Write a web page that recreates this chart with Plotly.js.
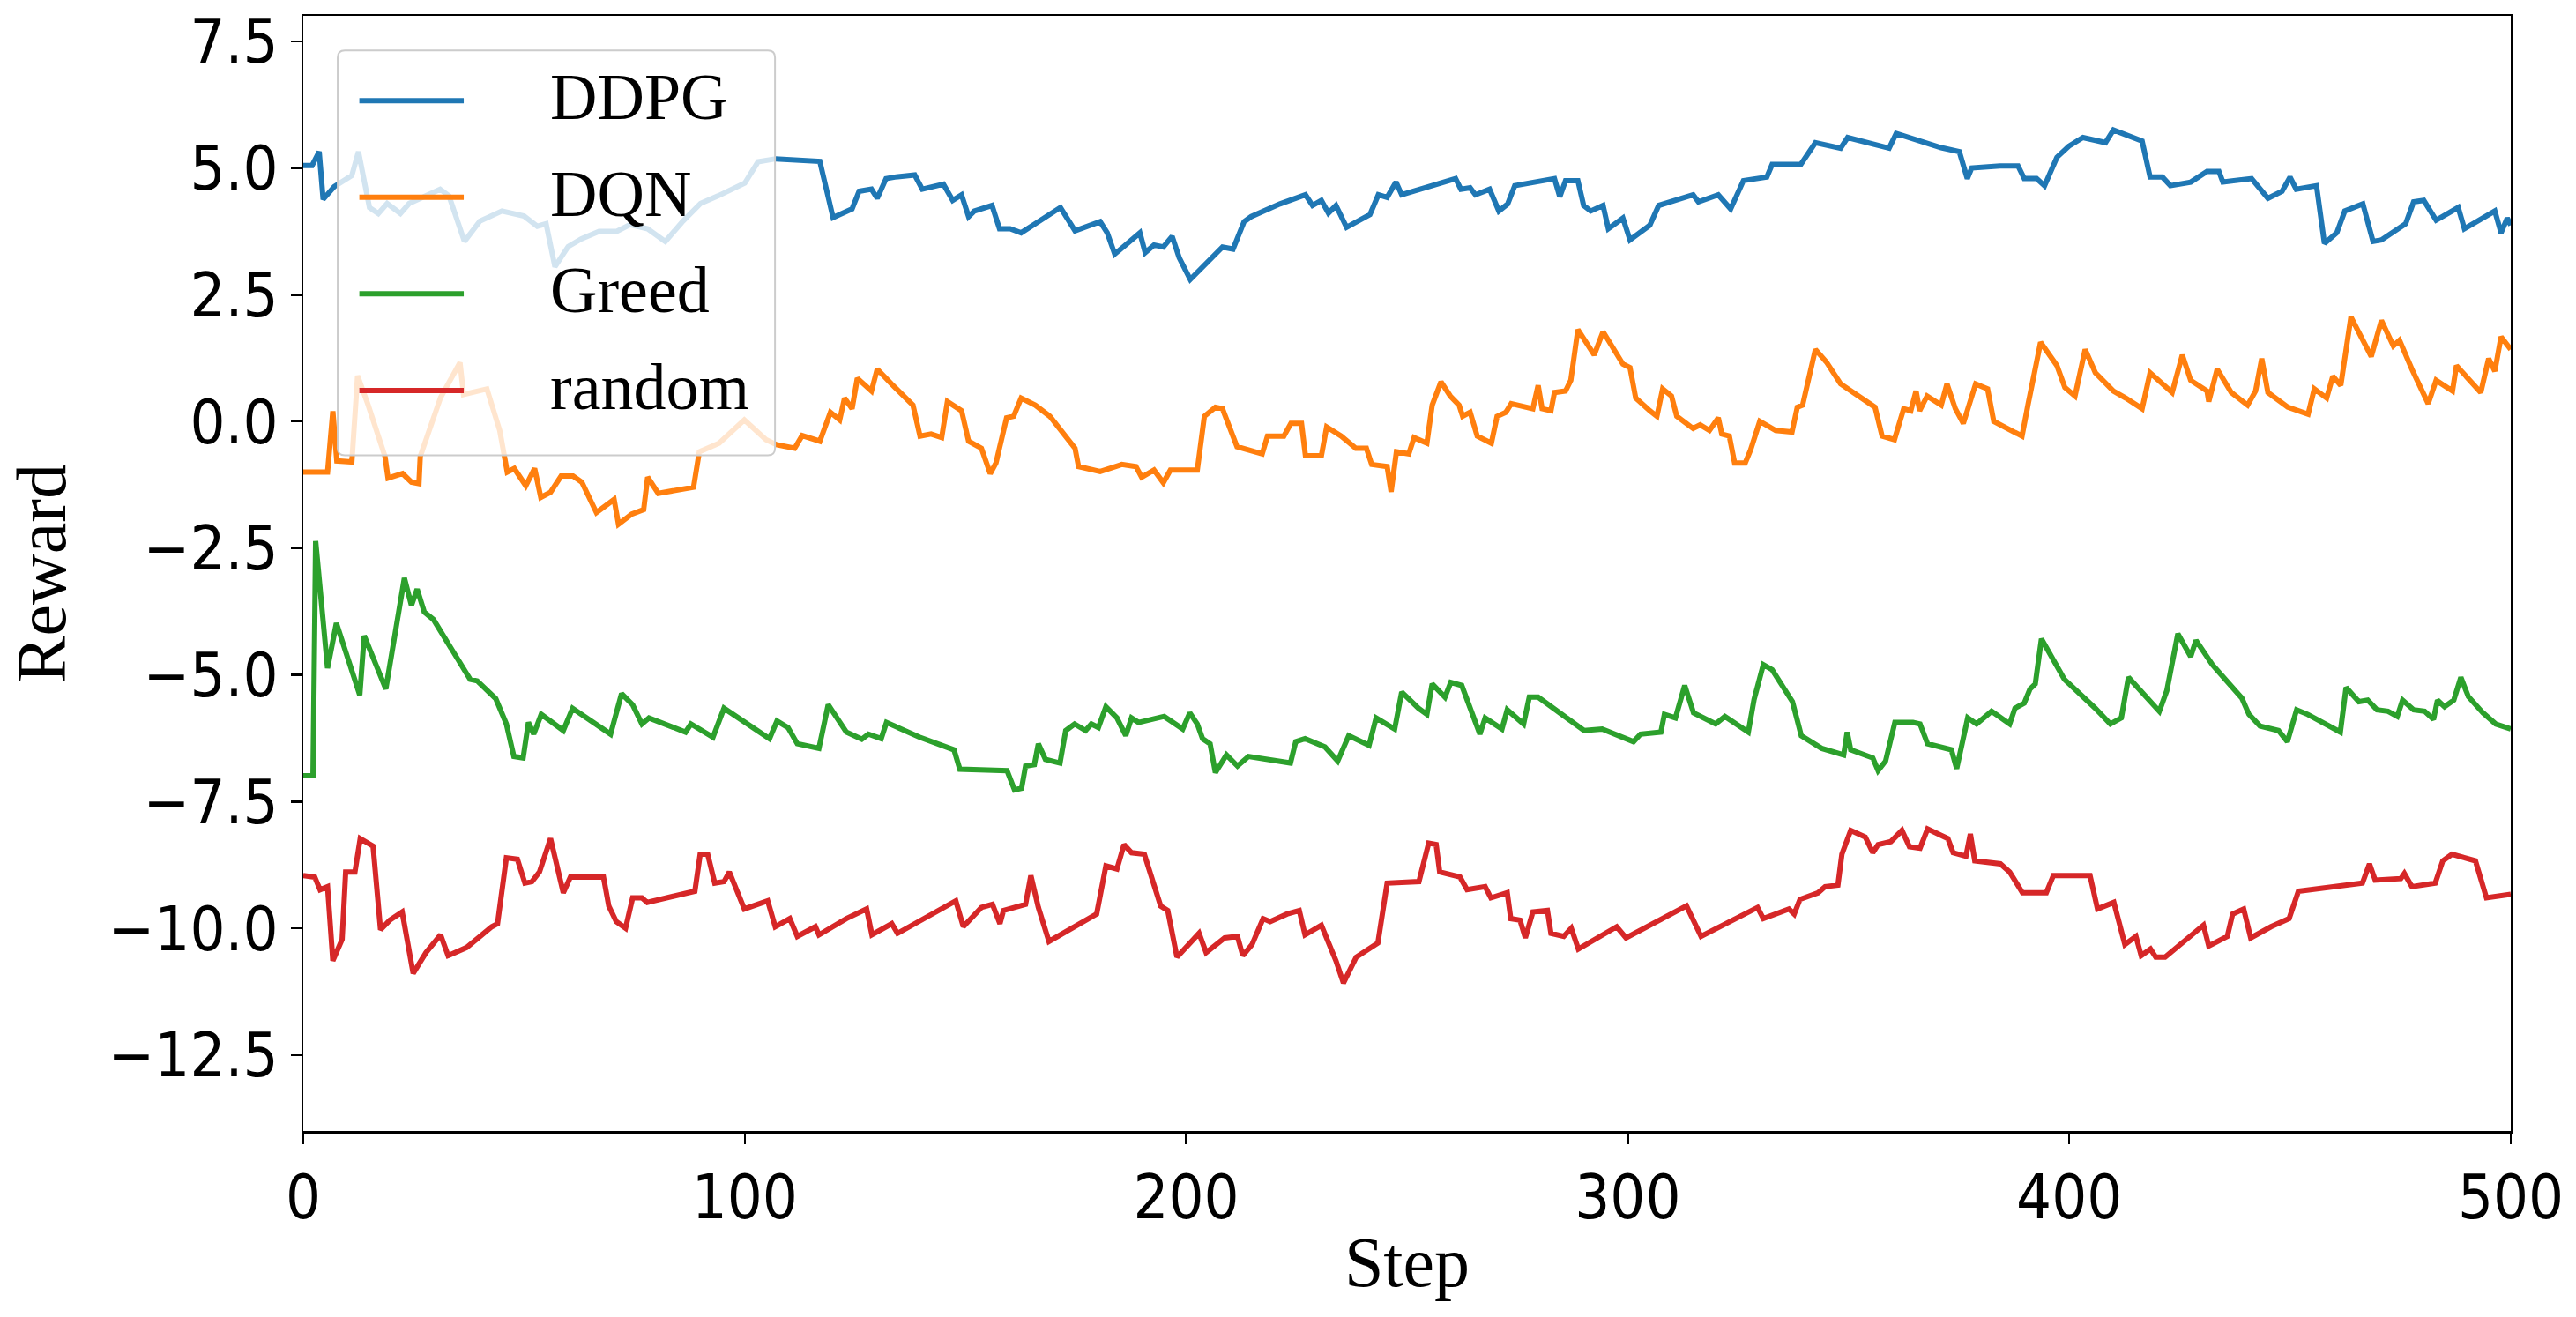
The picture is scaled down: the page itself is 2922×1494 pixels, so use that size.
<!DOCTYPE html>
<html>
<head>
<meta charset="utf-8">
<script src="https://cdn.plot.ly/plotly-3.0.1.min.js"></script>
<style>
  html, body { margin: 0; padding: 0; background: #ffffff; }
  #chart { width: 2922px; height: 1494px; }
</style>
</head>
<body>
<div id="chart"></div>
<script>
// ---------------- data ----------------
const seriesNames = ['DDPG', 'DQN', 'Greed', 'random'];
const seriesColors = ['#1f77b4', '#ff7f0e', '#2ca02c', '#d62728'];

const ddpgX = [0,2,3.6,4.5,7,11,12.5,15,17,19,22,24,31,33,36.5,40,45,50,53,55,57,60,63,67,71,74,78,82,86,90,94,100,103,107,117,120,124.3,125.9,128.7,130,132,134,138.5,140.2,145,147.1,149.1,150.7,152,156,157.7,160.1,162.6,171.5,174.8,178,180.5,182.1,183.8,189.5,190.7,192.7,194.8,196.8,198.4,200.9,204.1,208.2,210.6,213.1,214.7,221.2,227,228.6,230.6,232.2,233.9,236.3,241.6,243.5,245.5,247.5,248.8,261,262.2,264.3,265.5,268.7,270.8,272.8,274.4,283.4,284.6,285.9,288.7,290,291.6,294.4,295.6,298.9,300.5,305,307,309.9,314.8,316,320.5,323.3,326.2,331.5,332.7,339.2,342.5,348.2,349.8,359.2,360.8,371,375.1,376.9,377.9,384.3,388.4,389.8,392.6,394.4,397.2,399.9,403.1,408.2,410,416.5,418.3,421.1,422.9,427.5,431.2,433.9,434.8,441.3,444,445,448.2,450,451.4,456,457.8,460.6,462.4,466.5,468.8,470.7,476.2,478,480.3,483.1,488.1,489.5,496.4,497.8,499.2,500];
const ddpgY = [5.05,5.05,5.32,4.38,4.63,4.85,5.32,4.22,4.1,4.3,4.1,4.3,4.58,4.45,3.55,3.95,4.15,4.05,3.85,3.9,3.05,3.45,3.6,3.75,3.75,3.88,3.8,3.55,3.95,4.3,4.45,4.7,5.12,5.18,5.13,4.02,4.19,4.54,4.58,4.4,4.79,4.82,4.86,4.58,4.68,4.36,4.47,4.04,4.15,4.26,3.8,3.8,3.72,4.22,3.76,3.87,3.94,3.72,3.3,3.72,3.33,3.48,3.44,3.65,3.23,2.8,3.09,3.44,3.4,3.94,4.04,4.29,4.47,4.26,4.36,4.11,4.26,3.83,4.08,4.47,4.42,4.72,4.47,4.79,4.58,4.61,4.47,4.58,4.15,4.29,4.65,4.79,4.43,4.75,4.75,4.26,4.15,4.26,3.8,4.01,3.58,3.87,4.26,4.33,4.47,4.33,4.47,4.19,4.75,4.82,5.07,5.07,5.5,5.39,5.6,5.39,5.68,5.4,5.32,4.79,5.0,5.04,5.04,4.79,4.79,4.65,5.21,5.43,5.6,5.5,5.75,5.53,4.82,4.82,4.65,4.72,4.93,4.93,4.72,4.79,4.5,4.4,4.54,4.82,4.58,4.65,3.51,3.72,4.15,4.29,3.55,3.58,3.9,4.33,4.36,3.97,4.22,3.8,4.15,3.72,4.01,3.87];

const dqnX = [0,5.5,6.7,7.6,11,12.3,14.7,18.5,19.2,22.5,24.5,26.2,26.5,31.1,35.5,36.3,41.6,44.5,46.2,47.8,50.4,52.4,53.8,56,58.4,61.1,63.1,66.4,70.4,71.4,74.4,77.1,78,80.4,88.4,89.7,94.2,99.9,104.8,107.2,111.3,113,117,119.4,121.5,122.6,124.3,125.5,128.7,130,133.2,138.1,139.7,142.2,144.6,145.9,149.1,150.7,153.6,155.6,156.9,159.3,160.9,162.6,165.8,169.1,174.8,175.6,180.5,185.4,188.6,189.9,192.7,194.8,196.4,202.5,204.1,206.6,208.2,211.5,217.2,218.4,222.1,223.7,226.1,227,230.6,231.8,235.1,238.4,240.8,242,245.5,246.4,247.6,250.4,251.6,254.5,255.7,257.7,259.8,261.8,262.6,264.3,265.9,269.1,270.4,272.4,273.6,278.5,279.7,280.6,282.6,283.4,285.9,287.1,288.7,292.4,294.4,298.9,300.5,301.8,305,306.6,307.9,309.9,311.1,314.8,316.4,318.5,320.5,321.3,323,324.2,326.6,327.8,329.9,333.5,337.2,338.4,339.6,342.5,345,348.2,356,357.6,360.4,362.5,364.1,365.3,366.1,367.8,371,372.3,374.2,376,378.8,381.5,382.9,389.3,390.7,393.5,397.2,399,401.3,403.6,405.9,410,412.8,416.5,418.3,423.3,425.6,427.5,431.2,431.6,433.5,436.7,440.4,442.2,443.6,445,449.5,454.1,455.5,458.3,459.7,461.5,463.8,468.4,470.7,473.4,474.8,477.6,481.3,483.1,486.8,487.7,493.2,495,496.4,497.8,500];
const dqnY = [-1.0,-1.0,0.2,-0.78,-0.8,0.9,0.32,-0.69,-1.12,-1.03,-1.2,-1.23,-0.69,0.47,1.16,0.53,0.64,-0.18,-1.0,-0.93,-1.27,-0.93,-1.5,-1.4,-1.08,-1.08,-1.2,-1.8,-1.54,-2.03,-1.83,-1.74,-1.1,-1.42,-1.3,-0.6,-0.43,0.03,-0.36,-0.46,-0.53,-0.28,-0.39,0.18,0.03,0.46,0.25,0.85,0.6,1.03,0.74,0.32,-0.29,-0.25,-0.32,0.39,0.21,-0.39,-0.53,-1.03,-0.82,0.07,0.1,0.46,0.32,0.1,-0.53,-0.89,-0.99,-0.85,-0.89,-1.1,-0.96,-1.21,-0.96,-0.96,0.1,0.28,0.25,-0.5,-0.64,-0.29,-0.29,-0.04,-0.04,-0.68,-0.68,-0.11,-0.29,-0.53,-0.53,-0.85,-0.89,-1.39,-0.6,-0.64,-0.32,-0.43,0.32,0.78,0.5,0.32,0.1,0.18,-0.29,-0.43,0.1,0.18,0.35,0.25,0.71,0.25,0.21,0.57,0.6,0.81,1.81,1.31,1.77,1.13,1.06,0.46,0.21,0.1,0.64,0.5,0.1,-0.14,-0.07,-0.18,0.07,-0.25,-0.29,-0.82,-0.82,-0.57,0.0,-0.18,-0.21,0.28,0.32,1.42,1.17,0.74,0.28,-0.29,-0.36,0.25,0.21,0.6,0.21,0.5,0.32,0.74,0.25,-0.04,0.74,0.64,0.0,-0.29,0.35,1.56,1.1,0.67,0.5,1.42,0.96,0.6,0.46,0.25,0.96,0.57,1.31,0.81,0.6,0.39,1.03,0.57,0.32,0.6,1.24,0.57,0.28,0.14,0.64,0.46,0.89,0.71,2.06,1.28,1.99,1.49,1.6,1.03,0.35,0.81,0.6,1.1,0.57,1.24,0.99,1.67,1.42];

const greedX = [0,2.2,2.8,5.5,7.5,12.8,13.8,18.7,22.9,24.5,25.8,27.4,29.5,37.8,39.4,43.6,46,47.7,49.8,51,52.2,53.9,58.9,61,69.6,72.1,74.6,76.7,78.3,86.6,87.8,92.8,95.3,105.6,107.3,109.8,111.9,116.8,118.9,123,126.5,128,130.9,132.1,139.6,147.4,148.7,159.4,161.1,162.7,163.6,165.6,166.5,168.1,171.4,172.7,174.7,177.2,178.5,180.1,181.8,184.3,186.3,187.6,189.2,195,199.2,200.8,202.5,203.7,205.4,206.6,209.1,211.6,214.1,223.6,224.8,226.9,231.4,234.3,236.8,241.4,243,247.2,248.8,252.6,254.5,255.7,258.6,259.9,262.4,264.8,266.5,267.7,271.5,272.7,276.4,277.7,279.7,290.1,294.2,301.3,302.9,307.5,308.3,310.8,312.9,314.9,319.9,322,327.3,328.6,330.7,332.7,334.8,337.3,339.3,343.9,348.9,349.7,350.5,355.5,356.7,358.4,360.5,364.6,366.2,367.9,373.3,374.5,377,379,382.4,386.5,387.7,389.8,391.1,392.3,393.7,398.9,405.9,409.3,411.8,413.4,420.4,422.1,424.6,427.5,428.7,432.4,439.1,440.7,443.2,447.4,449.4,451.5,454,461.4,462.7,465.6,467.6,469.7,472.2,474.3,475.5,478,480.5,482.5,483.4,485,487.1,488.7,490.4,493.7,496.6,500];
const greedY = [-6.99,-6.99,-2.36,-4.87,-3.98,-5.4,-4.23,-5.28,-3.09,-3.63,-3.31,-3.76,-3.91,-5.09,-5.12,-5.47,-5.97,-6.61,-6.64,-5.94,-6.17,-5.78,-6.1,-5.66,-6.17,-5.37,-5.59,-5.97,-5.85,-6.13,-5.97,-6.23,-5.66,-6.26,-5.91,-6.04,-6.36,-6.45,-5.59,-6.13,-6.27,-6.17,-6.26,-5.94,-6.23,-6.48,-6.86,-6.89,-7.27,-7.24,-6.8,-6.77,-6.36,-6.67,-6.74,-6.1,-5.97,-6.1,-5.97,-6.04,-5.63,-5.85,-6.2,-5.85,-5.94,-5.82,-6.07,-5.75,-5.97,-6.26,-6.36,-6.93,-6.58,-6.8,-6.61,-6.74,-6.32,-6.26,-6.42,-6.7,-6.2,-6.39,-5.85,-6.07,-5.34,-5.66,-5.78,-5.18,-5.44,-5.15,-5.21,-5.78,-6.17,-5.85,-6.07,-5.69,-5.97,-5.44,-5.44,-6.1,-6.07,-6.32,-6.17,-6.13,-5.78,-5.85,-5.21,-5.75,-5.97,-5.82,-6.13,-5.49,-4.8,-4.9,-5.18,-5.53,-6.2,-6.45,-6.58,-6.13,-6.48,-6.64,-6.89,-6.7,-5.94,-5.94,-5.97,-6.36,-6.48,-6.85,-5.85,-5.97,-5.72,-5.97,-5.66,-5.56,-5.28,-5.18,-4.29,-5.09,-5.66,-5.97,-5.85,-5.05,-5.72,-5.31,-4.19,-4.64,-4.32,-4.8,-5.46,-5.78,-6.01,-6.1,-6.32,-5.69,-5.78,-6.13,-5.25,-5.53,-5.5,-5.69,-5.72,-5.82,-5.5,-5.69,-5.72,-5.88,-5.5,-5.63,-5.5,-5.05,-5.43,-5.75,-5.97,-6.07];

const randomX = [0,2.6,3.8,5.5,6.7,8.8,9.6,11.7,12.9,15.8,17.5,19.6,22.4,24.9,27.8,31.1,32.8,37,42.7,44,46,48.5,50.2,51.8,53.5,56,58.9,60.5,68,69.2,70.9,73,74.6,76.7,77.9,88.7,89.9,91.6,93.2,95.3,96.5,97.8,99.9,105.2,106.9,110.2,111.9,116,116.8,123,127.6,128.8,133.3,134.6,147.8,149.5,153.6,156.1,157.8,158.6,163.6,164.8,166.5,168.9,179.7,181.8,184.3,185.9,187.6,190.5,192.5,194.2,195.8,197.9,202.9,204.5,208.7,211.6,212.8,214.9,217.4,219,222.8,225.6,226.9,230.6,233.9,235.6,238.5,243.4,245.5,252.7,254.9,256.6,257.4,262,263.6,267.7,269,272.7,273.5,275.6,276.8,278.5,281.8,282.6,285.5,287.2,288.8,297.5,299.6,313.3,316.6,329.4,330.7,336.5,337.7,339,343.1,344.7,347.6,348.5,350.5,353.8,355.5,356.7,359.6,362.1,363.8,366.2,367.9,372.5,373.7,376.6,377.6,378.6,384.4,386.5,389.4,394.8,396.4,404.7,406.4,410.1,412.6,415.1,416.3,418.4,419.6,421.7,430.4,431.6,435.8,437,439.5,441.1,445.7,449.8,451.9,466.4,468,469.3,475.1,475.9,477.6,482.9,484.6,486.7,492,494.5,500];
const randomY = [-8.96,-8.99,-9.24,-9.18,-10.64,-10.22,-8.89,-8.89,-8.23,-8.38,-10.03,-9.84,-9.68,-10.89,-10.48,-10.13,-10.54,-10.38,-9.97,-9.91,-8.61,-8.64,-9.11,-9.08,-8.89,-8.23,-9.3,-8.99,-8.99,-9.56,-9.87,-10.0,-9.4,-9.4,-9.49,-9.27,-8.54,-8.54,-9.11,-9.08,-8.89,-9.18,-9.62,-9.46,-9.97,-9.81,-10.16,-9.97,-10.13,-9.81,-9.62,-10.13,-9.91,-10.1,-9.46,-9.97,-9.59,-9.53,-9.91,-9.65,-9.53,-8.96,-9.59,-10.26,-9.72,-8.77,-8.83,-8.35,-8.51,-8.54,-9.08,-9.56,-9.65,-10.57,-10.1,-10.48,-10.19,-10.16,-10.54,-10.32,-9.81,-9.87,-9.72,-9.65,-10.13,-9.94,-10.64,-11.08,-10.57,-10.29,-9.11,-9.08,-8.32,-8.35,-8.89,-8.99,-9.24,-9.18,-9.4,-9.3,-9.81,-9.84,-10.19,-9.68,-9.65,-10.1,-10.16,-10.0,-10.41,-9.97,-10.19,-9.56,-10.16,-9.59,-9.81,-9.62,-9.72,-9.43,-9.3,-9.18,-9.15,-8.54,-8.07,-8.2,-8.51,-8.35,-8.29,-8.07,-8.39,-8.42,-8.04,-8.23,-8.51,-8.58,-8.14,-8.67,-8.73,-8.89,-9.3,-9.3,-8.96,-8.96,-9.62,-9.49,-10.32,-10.16,-10.54,-10.41,-10.57,-10.57,-9.94,-10.35,-10.16,-9.72,-9.62,-10.19,-9.97,-9.81,-9.27,-9.11,-8.73,-9.05,-9.02,-8.92,-9.18,-9.11,-8.67,-8.54,-8.67,-9.4,-9.33];

const xTitle = 'Step';
const yTitle = 'Reward';

// ---------------- chart ----------------
const xs = [ddpgX, dqnX, greedX, randomX];
const ys = [ddpgY, dqnY, greedY, randomY];

const traces = seriesNames.map((name, i) => ({
  type: 'scatter',
  mode: 'lines',
  name: name,
  x: xs[i],
  y: ys[i],
  line: { color: seriesColors[i], width: 6 },
  showlegend: false,
  hoverinfo: 'skip'
}));

const tickFont = { family: 'DejaVu Sans Condensed, DejaVu Sans, sans-serif', size: 70, color: '#000000' };
const serif = 'Liberation Serif, Times New Roman, serif';

// custom legend box (matplotlib style)
const lx0 = 0.0156, lx1 = 0.2137, ly0 = 0.606, ly1 = 0.969, rx = 0.0032, ry = 0.0063;
const boxPath = `M ${lx0 + rx},${ly0} L ${lx1 - rx},${ly0} Q ${lx1},${ly0} ${lx1},${ly0 + ry} ` +
  `L ${lx1},${ly1 - ry} Q ${lx1},${ly1} ${lx1 - rx},${ly1} L ${lx0 + rx},${ly1} ` +
  `Q ${lx0},${ly1} ${lx0},${ly1 - ry} L ${lx0},${ly0 + ry} Q ${lx0},${ly0} ${lx0 + rx},${ly0} Z`;

const shapes = [{
  type: 'path', xref: 'paper', yref: 'paper', path: boxPath,
  fillcolor: 'rgba(255,255,255,0.8)', line: { color: 'rgb(204,204,204)', width: 2 }, layer: 'above'
}];
const annotations = [];
const rowY0 = 0.9239, rowStep = 0.0866;
seriesNames.forEach((name, i) => {
  const yy = rowY0 - i * rowStep;
  shapes.push({
    type: 'line', xref: 'paper', yref: 'paper', x0: 0.0254, x1: 0.0727, y0: yy, y1: yy,
    line: { color: seriesColors[i], width: 6 }, layer: 'above'
  });
  annotations.push({
    xref: 'paper', yref: 'paper', x: 0.111, y: yy, xanchor: 'left', yanchor: 'middle',
    text: name, showarrow: false, font: { family: serif, size: 74, color: '#000000' }, yshift: 4
  });
});

const layout = {
  width: 2922,
  height: 1494,
  margin: { l: 344, r: 74, t: 18, b: 211, pad: 0 },
  paper_bgcolor: '#ffffff',
  plot_bgcolor: '#ffffff',
  showlegend: false,
  xaxis: {
    range: [0, 500],
    tick0: 0, dtick: 100,
    ticks: 'outside', ticklen: 12, tickwidth: 2.5, tickcolor: '#000000',
    showline: true, linecolor: '#000000', linewidth: 2.5, mirror: true,
    showgrid: false, zeroline: false,
    tickfont: tickFont,
    title: { text: xTitle, font: { family: serif, size: 80, color: '#000000' }, standoff: 6 },
    automargin: false
  },
  yaxis: {
    range: [-14, 8],
    tick0: 0, dtick: 2.5, tickformat: '.1f',
    ticks: 'outside', ticklen: 12, tickwidth: 2.5, tickcolor: '#000000',
    showline: true, linecolor: '#000000', linewidth: 2.5, mirror: true,
    showgrid: false, zeroline: false,
    tickfont: tickFont,
    title: { text: yTitle, font: { family: serif, size: 80, color: '#000000' }, standoff: 22 },
    automargin: false
  },
  shapes: shapes,
  annotations: annotations
};

Plotly.newPlot('chart', traces, layout, { displayModeBar: false, staticPlot: true });
</script>
</body>
</html>
